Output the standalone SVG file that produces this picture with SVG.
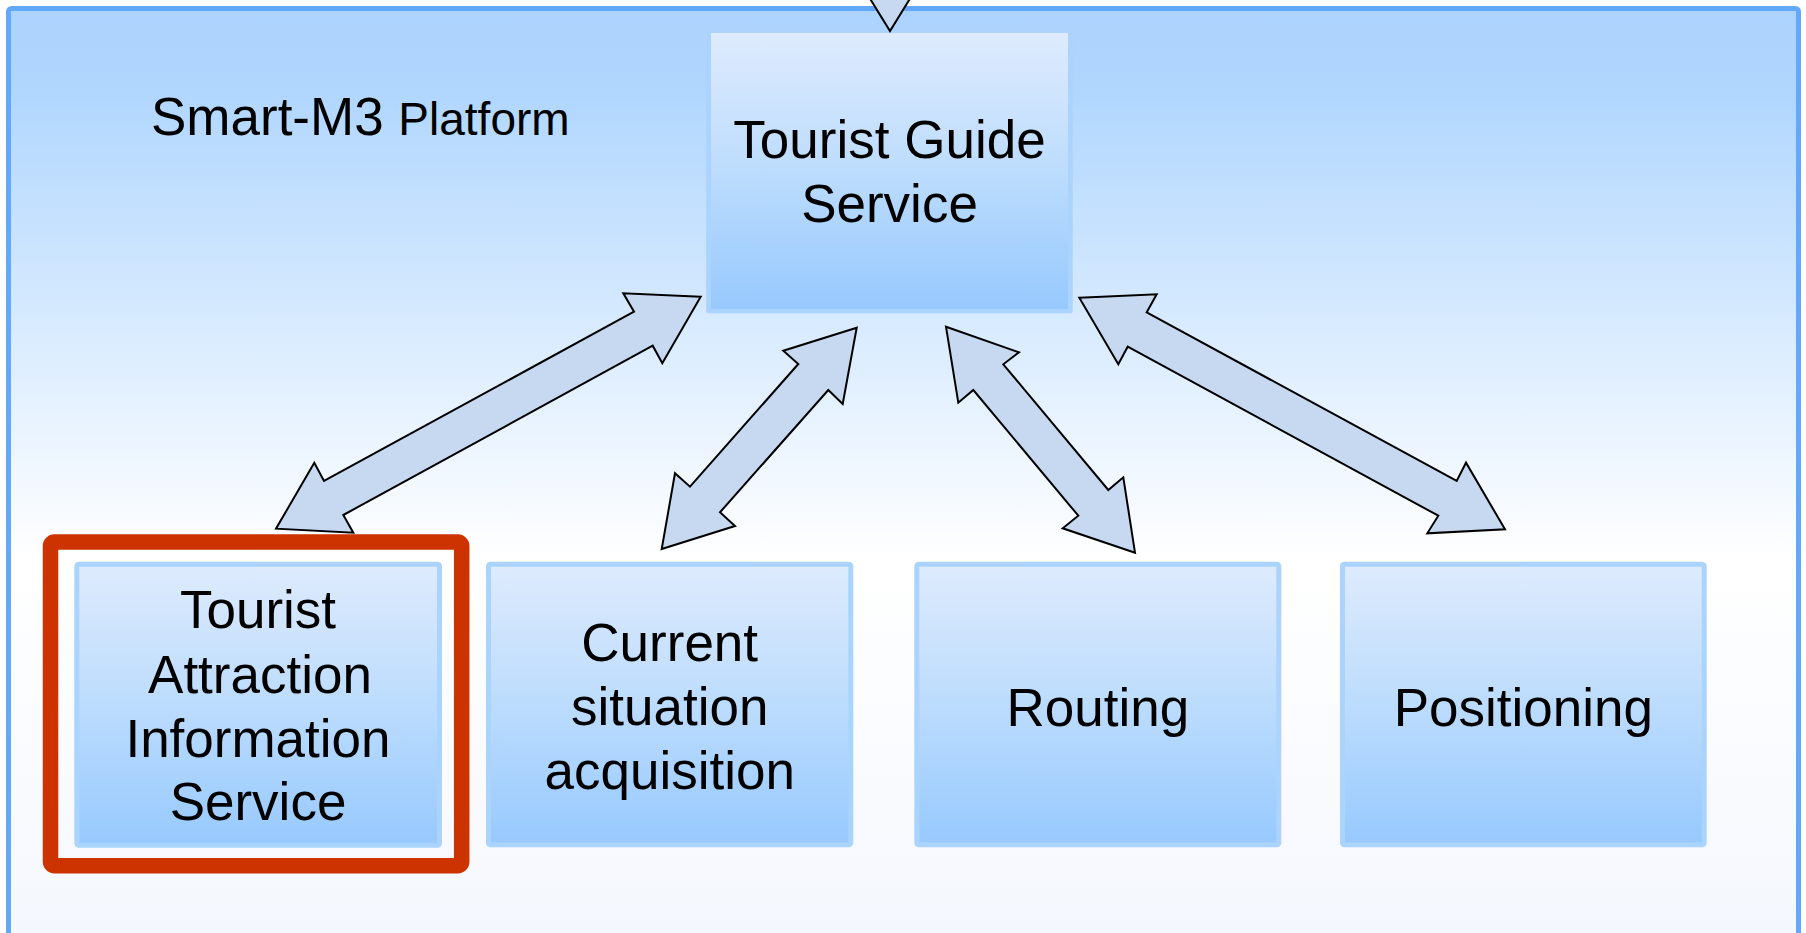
<svg xmlns="http://www.w3.org/2000/svg" width="1806" height="933" viewBox="0 0 1806 933">
<defs>
<linearGradient id="bg" x1="0" y1="0" x2="0" y2="1">
<stop offset="0" stop-color="#acd3fd"/>
<stop offset="0.08" stop-color="#b0d6fe"/>
<stop offset="0.55" stop-color="#ffffff"/>
<stop offset="1" stop-color="#f2f6fd"/>
</linearGradient>
<linearGradient id="nodeg" x1="0" y1="0" x2="0" y2="1">
<stop offset="0" stop-color="#deebfd"/>
<stop offset="0.5" stop-color="#bcdcfd"/>
<stop offset="1" stop-color="#97c9fe"/>
</linearGradient>
<style>
.node rect{fill:url(#nodeg);stroke:#aad3fe;stroke-width:5}
.node rect.frame{fill:#aad3fe;stroke:none}
.node rect.fill{fill:url(#nodeg);stroke:none}
.lbl{font-family:"Liberation Sans",Arial,sans-serif;font-size:53px;fill:#000;text-anchor:middle}
.arr{fill:#c6d9f0;stroke:#000;stroke-width:2;stroke-linejoin:miter}
</style>
</defs>
<rect id="platform" x="8.5" y="8.5" width="1790" height="1000" rx="3" fill="url(#bg)" stroke="#62a9fd" stroke-width="5"/>
<text x="151" y="135" font-family="Liberation Sans, Arial, sans-serif" font-size="53" fill="#000">Smart-M3 <tspan font-size="46">Platform</tspan></text>

<g id="connectors">
<polygon class="arr" points="869,-3 911,-3 890,31"/>
<polygon class="arr" points="700.7,296.7 623.3,293.3 634,311.7 324,481 314.3,462.7 276,528.7 353.3,532.7 343.3,515 652.7,345.7 662.3,363.3"/>
<polygon class="arr" points="856.7,327.7 783.3,350.7 798.3,364 690,486.7 675,473.3 661.7,549 735,526 720,512.3 828.3,390 842.7,404"/>
<polygon class="arr" points="946,326.7 1019,352.3 1003.3,364.3 1108.3,490 1123.3,477.3 1135,552.7 1062.7,528.3 1078.3,515.7 973.3,390 958.3,402.7"/>
<polygon class="arr" points="1079.3,297.7 1156.7,294.3 1146.7,312.3 1456.7,481 1466,462.7 1505,529.3 1427.3,533.3 1438.3,515.7 1127.7,346.7 1118.3,364.3"/>
</g>

<g id="tourist-guide-service" class="node">
<rect class="frame" x="706.2" y="33" width="366.5" height="280.3" rx="2"/>
<rect class="fill" x="711" y="33" width="357" height="276"/>
<text class="lbl" x="889.5" y="158">Tourist Guide</text>
<text class="lbl" x="889.5" y="222">Service</text>
</g>

<g id="highlight">
<rect x="50.5" y="542" width="411.2" height="323.8" rx="4" fill="none" stroke="#cc3300" stroke-width="15.5"/>
</g>

<g id="tourist-attraction-info" class="node">
<rect x="76.8" y="564.2" width="362.7" height="281" rx="2"/>
<text class="lbl" x="258" y="628.3">Tourist</text>
<text class="lbl" x="260" y="692.7">Attraction</text>
<text class="lbl" x="258" y="756.7">Information</text>
<text class="lbl" x="258" y="820">Service</text>
</g>

<g id="current-situation" class="node">
<rect x="488.5" y="564.2" width="362.3" height="280.6" rx="2"/>
<text class="lbl" x="669.7" y="660.7">Current</text>
<text class="lbl" x="669.7" y="725">situation</text>
<text class="lbl" x="669.7" y="789.3">acquisition</text>
</g>

<g id="routing" class="node">
<rect x="916.8" y="564.2" width="362" height="280.6" rx="2"/>
<text class="lbl" x="1097.8" y="725.7">Routing</text>
</g>

<g id="positioning" class="node">
<rect x="1342.5" y="564.2" width="361.7" height="280.6" rx="2"/>
<text class="lbl" x="1523.4" y="725.7">Positioning</text>
</g>
</svg>
